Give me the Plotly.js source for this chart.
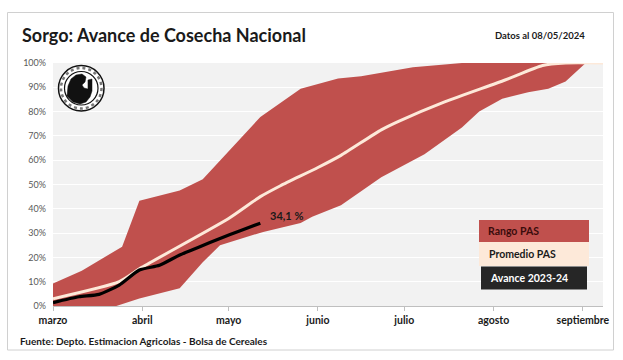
<!DOCTYPE html>
<html>
<head>
<meta charset="utf-8">
<script src="https://cdn.plot.ly/plotly-3.0.1.min.js"></script>
<style>
  html, body { margin: 0; padding: 0; background: #ffffff; }
  #chart { width: 623px; height: 360px; }
</style>
</head>
<body>
<div id="chart"></div>
<script>
// ---- Data ----
const rangoUpperDates = ['2024-03-01','2024-03-11','2024-03-25','2024-03-31','2024-04-14','2024-04-22','2024-05-12','2024-05-26','2024-06-08','2024-06-16','2024-06-29','2024-07-04','2024-07-21','2024-09-08'];
const rangoUpperValues = [9.3, 14.5, 24.4, 43.3, 47.5, 52.2, 77.8, 89.4, 93.6, 94.5, 97.2, 98.2, 100, 100];

const rangoLowerDates = ['2024-03-01','2024-03-23','2024-03-31','2024-04-07','2024-04-14','2024-04-22','2024-04-28','2024-05-13','2024-05-26','2024-05-30','2024-06-09','2024-06-23','2024-07-08','2024-07-21','2024-07-27','2024-08-04','2024-08-13','2024-08-20','2024-08-26','2024-09-02','2024-09-08'];
const rangoLowerValues = [0, 0, 3.1, 5.2, 7.3, 18.0, 25.0, 30.5, 34.2, 36.7, 41.5, 53.0, 62.5, 73.5, 80.0, 85.3, 88.0, 89.4, 92.4, 100, 100];

const promedioDates = ['2024-03-01','2024-03-24','2024-04-01','2024-05-01','2024-05-12','2024-05-19','2024-06-01','2024-06-09','2024-06-23','2024-06-29','2024-07-15','2024-08-05','2024-08-18','2024-08-26','2024-09-08'];
const promedioValues = [3.0, 10.0, 16.0, 36.0, 45.0, 49.5, 57.0, 62.0, 72.5, 76.0, 84.0, 93.0, 99.0, 100, 100];

const avanceDates = ['2024-03-01','2024-03-10','2024-03-17','2024-03-24','2024-03-31','2024-04-07','2024-04-14','2024-04-21','2024-04-28','2024-05-05','2024-05-12'];
const avanceValues = [1.4, 3.8, 4.8, 8.6, 14.8, 16.8, 21.0, 24.4, 27.8, 31.0, 34.1];

const monthTickDates = ['2024-03-01','2024-04-01','2024-05-01','2024-06-01','2024-07-01','2024-08-01','2024-09-01'];
const monthTickLabels = ['marzo','abril','mayo','junio','julio','agosto','septiembre'];

const legendLabels = ['Rango PAS','Promedio PAS','Avance 2023-24'];
const lastLabel = '34,1 %';

// ---- Layout helpers (pixel -> paper) ----
const L = 53, R = 20, T = 63, B = 54, W = 623, H = 360;
const pw = W - L - R, ph = H - T - B;
const px = p => (p - L) / pw;
const py = p => (H - B - p) / ph;

const FONT = 'Lato, "Open Sans", sans-serif';
const red = '#c0504d';
const cream = '#fde9d9';

const traces = [
  {
    x: rangoLowerDates, y: rangoLowerValues, type: 'scatter', mode: 'lines',
    line: {width: 0, color: red}, hoverinfo: 'skip', showlegend: false
  },
  {
    x: rangoUpperDates, y: rangoUpperValues, type: 'scatter', mode: 'lines',
    fill: 'tonexty', fillcolor: red, line: {width: 0, color: red},
    name: legendLabels[0], showlegend: false
  },
  {
    x: promedioDates, y: promedioValues, type: 'scatter', mode: 'lines',
    line: {color: cream, width: 3, shape: 'spline', smoothing: 0.6},
    name: legendLabels[1], showlegend: false
  },
  {
    x: avanceDates, y: avanceValues, type: 'scatter', mode: 'lines',
    line: {color: '#000000', width: 3.2, shape: 'spline', smoothing: 0.6},
    name: legendLabels[2], showlegend: false
  }
];

// logo silhouette path (pixel coords converted to paper)
function pathFromPx(points) {
  return points.map((p, i) => (i === 0 ? 'M' : 'L') + px(p[0]).toFixed(4) + ',' + py(p[1]).toFixed(4)).join(' ') + ' Z';
}
const logoFigure = pathFromPx([[67,96],[68,86],[71,79],[76,75],[82,74],[86,77],[85,82],[82,85],[84,88],[88,89],[88,80],[92,79],[92,91],[90,97],[86,102],[80,104],[73,102]]);

const shapes = [
  // outer frame
  {type: 'rect', xref: 'paper', yref: 'paper', x0: px(7.5), x1: px(613.5), y0: py(350), y1: py(12.5),
   line: {color: '#d0d0d0', width: 1}, fillcolor: 'rgba(0,0,0,0)', layer: 'below'},
  // legend boxes
  {type: 'rect', xref: 'paper', yref: 'paper', x0: px(479), x1: px(589), y0: py(242), y1: py(220),
   line: {width: 0}, fillcolor: red},
  {type: 'rect', xref: 'paper', yref: 'paper', x0: px(479), x1: px(589), y0: py(266), y1: py(242),
   line: {width: 0}, fillcolor: cream},
  {type: 'rect', xref: 'paper', yref: 'paper', x0: px(481), x1: px(587), y0: py(289.5), y1: py(266.5),
   line: {width: 0}, fillcolor: '#262626'},
  // logo seal
  {type: 'circle', xref: 'paper', yref: 'paper', x0: px(58.5), x1: px(104), y0: py(111), y1: py(65.5),
   line: {color: '#111', width: 1.5}, fillcolor: '#ffffff'},
  {type: 'circle', xref: 'paper', yref: 'paper', x0: px(61), x1: px(101.5), y0: py(108.5), y1: py(68),
   line: {color: '#777', width: 2.5, dash: 'dot'}, fillcolor: 'rgba(0,0,0,0)'},
  {type: 'circle', xref: 'paper', yref: 'paper', x0: px(64.5), x1: px(98), y0: py(105), y1: py(71.5),
   line: {color: '#111', width: 1.2}, fillcolor: '#ffffff'},
  {type: 'path', xref: 'paper', yref: 'paper', path: logoFigure,
   line: {color: '#111', width: 0.5}, fillcolor: '#111'}
];

const annotations = [
  {xref: 'paper', yref: 'paper', x: px(20), y: py(35), xanchor: 'left', yanchor: 'middle', showarrow: false,
   text: '<b>Sorgo: Avance de Cosecha Nacional</b>', font: {family: FONT, size: 18, color: '#1a1a1a'}},
  {xref: 'paper', yref: 'paper', x: px(587), y: py(36), xanchor: 'right', yanchor: 'middle', showarrow: false,
   text: '<b>Datos al 08/05/2024</b>', font: {family: FONT, size: 9.5, color: '#1a1a1a'}},
  {xref: 'paper', yref: 'paper', x: px(18), y: py(341), xanchor: 'left', yanchor: 'middle', showarrow: false,
   text: '<b>Fuente: Depto. Estimacion Agricolas - Bolsa de Cereales</b>', font: {family: FONT, size: 10, color: '#1a1a1a'}},
  {xref: 'x', yref: 'y', x: '2024-05-21', y: 37.1, xanchor: 'center', yanchor: 'middle', showarrow: false,
   text: '<b>' + lastLabel + '</b>', font: {family: FONT, size: 11, color: '#1a1a1a'}},
  {xref: 'paper', yref: 'paper', x: px(486), y: py(231), xanchor: 'left', yanchor: 'middle', showarrow: false,
   text: '<b>' + legendLabels[0] + '</b>', font: {family: FONT, size: 10.5, color: '#3a0c0c'}},
  {xref: 'paper', yref: 'paper', x: px(487), y: py(254), xanchor: 'left', yanchor: 'middle', showarrow: false,
   text: '<b>' + legendLabels[1] + '</b>', font: {family: FONT, size: 10.5, color: '#1a1a1a'}},
  {xref: 'paper', yref: 'paper', x: px(488), y: py(278), xanchor: 'left', yanchor: 'middle', showarrow: false,
   text: '<b>' + legendLabels[2] + '</b>', font: {family: FONT, size: 10.5, color: '#ffffff'}}
];

const layout = {
  width: W, height: H,
  margin: {l: L, r: R, t: T, b: B, pad: 0},
  paper_bgcolor: '#ffffff',
  plot_bgcolor: '#f2f2f2',
  showlegend: false,
  xaxis: {
    type: 'date', range: ['2024-03-01', '2024-09-08'],
    tickvals: monthTickDates, ticktext: monthTickLabels,
    showgrid: false, zeroline: false,
    showline: true, linecolor: '#bfbfbf', linewidth: 1,
    ticks: 'outside', ticklen: 4, tickcolor: '#bfbfbf',
    tickfont: {family: FONT, size: 10.5, color: '#1a1a1a', weight: 'bold'},
    fixedrange: true
  },
  yaxis: {
    range: [0, 100], dtick: 10, ticksuffix: '%',
    showgrid: true, gridcolor: '#ffffff', gridwidth: 1,
    zeroline: false, showline: false, ticks: '',
    ticklabelstandoff: 6,
    tickfont: {family: FONT, size: 9, color: '#595959'},
    fixedrange: true
  },
  shapes: shapes,
  annotations: annotations
};

Plotly.newPlot('chart', traces, layout, {displayModeBar: false, staticPlot: true});
</script>
</body>
</html>
